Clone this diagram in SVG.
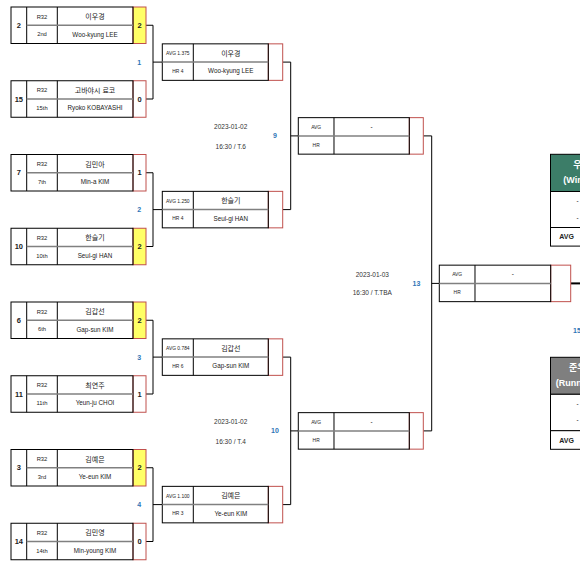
<svg xmlns="http://www.w3.org/2000/svg" width="580" height="567" viewBox="0 0 580 567">
<style>
text{font-family:"Liberation Sans","Noto Sans CJK KR",sans-serif;text-anchor:middle;fill:#222}
.bx{fill:none;stroke:#000;stroke-width:1}
.bl{stroke:#000;stroke-width:1}
.gl{stroke:#808080;stroke-width:1.5}
.sc{fill:#fff;stroke:#c0504d;stroke-width:1}
.win{fill:#ffff66}
.seed{font-size:7.5px;font-weight:bold}
.r32{font-size:5.8px}
.ko{font-size:7px}
.en{font-size:6.3px}
.score{font-size:7.5px;font-weight:bold}
.avg{font-size:4.9px}
.num{font-size:7px;font-weight:bold;fill:#2e75b6}
.date{font-size:6.5px;fill:#333}
.conn{fill:none;stroke:#000;stroke-width:1}
.hd{font-size:9px;font-weight:bold;fill:#fff}
.ws{font-size:7px;font-weight:bold}
</style>
<rect width="580" height="567" fill="#fff"/>

<g id="connectors">
<path class="conn" d="M146 25.25H153V99H146M153 62.1H162.3"/>
<path class="conn" d="M146 172.75H153V246.5H146M153 209.6H162.3"/>
<path class="conn" d="M146 320.25H153V394H146M153 357.1H162.3"/>
<path class="conn" d="M146 467.75H153V541.5H146M153 504.6H162.3"/>
<path class="conn" d="M282.7 62.1H290.7V209.6H282.7M290.7 135.9H298.3"/>
<path class="conn" d="M282.7 357.1H290.7V504.6H282.7M290.7 430.9H298.3"/>
<path class="conn" d="M423.3 135.9H431.7V430.9H423.3M431.7 283.4H439.3"/>
<path class="conn" d="M570.7 283.4H580" style="stroke-width:2"/>
</g>

<g id="r1-1" transform="translate(11,7)">
<rect class="sc win" x="122" width="13" height="36.5"/><rect class="bx" width="122" height="36.5"/>
<line class="bl" x1="15.7" x2="15.7" y2="36.5"/><line class="bl" x1="46.3" x2="46.3" y2="36.5"/><line class="gl" x1="15.7" y1="18.25" x2="122" y2="18.25"/>
<text class="seed" x="7.85" y="20.9">2</text><text class="r32" x="31" y="11.6">R32</text><text class="r32" x="31" y="29.4">2nd</text>
<text class="ko" x="84" y="12">이우경</text><text class="en" x="84" y="29.6">Woo-kyung LEE</text><text class="score" x="128.5" y="20.9">2</text>
</g>
<g id="r1-2" transform="translate(11,80.75)">
<rect class="sc" x="122" width="13" height="36.5"/><rect class="bx" width="122" height="36.5"/>
<line class="bl" x1="15.7" x2="15.7" y2="36.5"/><line class="bl" x1="46.3" x2="46.3" y2="36.5"/><line class="gl" x1="15.7" y1="18.25" x2="122" y2="18.25"/>
<text class="seed" x="7.85" y="20.9">15</text><text class="r32" x="31" y="11.6">R32</text><text class="r32" x="31" y="29.4">15th</text>
<text class="ko" x="84" y="12">고바야시 료코</text><text class="en" x="84" y="29.6">Ryoko KOBAYASHI</text><text class="score" x="128.5" y="20.9">0</text>
</g>
<g id="r1-3" transform="translate(11,154.5)">
<rect class="sc" x="122" width="13" height="36.5"/><rect class="bx" width="122" height="36.5"/>
<line class="bl" x1="15.7" x2="15.7" y2="36.5"/><line class="bl" x1="46.3" x2="46.3" y2="36.5"/><line class="gl" x1="15.7" y1="18.25" x2="122" y2="18.25"/>
<text class="seed" x="7.85" y="20.9">7</text><text class="r32" x="31" y="11.6">R32</text><text class="r32" x="31" y="29.4">7th</text>
<text class="ko" x="84" y="12">김민아</text><text class="en" x="84" y="29.6">Min-a KIM</text><text class="score" x="128.5" y="20.9">1</text>
</g>
<g id="r1-4" transform="translate(11,228.25)">
<rect class="sc win" x="122" width="13" height="36.5"/><rect class="bx" width="122" height="36.5"/>
<line class="bl" x1="15.7" x2="15.7" y2="36.5"/><line class="bl" x1="46.3" x2="46.3" y2="36.5"/><line class="gl" x1="15.7" y1="18.25" x2="122" y2="18.25"/>
<text class="seed" x="7.85" y="20.9">10</text><text class="r32" x="31" y="11.6">R32</text><text class="r32" x="31" y="29.4">10th</text>
<text class="ko" x="84" y="12">한슬기</text><text class="en" x="84" y="29.6">Seul-gi HAN</text><text class="score" x="128.5" y="20.9">2</text>
</g>
<g id="r1-5" transform="translate(11,302)">
<rect class="sc win" x="122" width="13" height="36.5"/><rect class="bx" width="122" height="36.5"/>
<line class="bl" x1="15.7" x2="15.7" y2="36.5"/><line class="bl" x1="46.3" x2="46.3" y2="36.5"/><line class="gl" x1="15.7" y1="18.25" x2="122" y2="18.25"/>
<text class="seed" x="7.85" y="20.9">6</text><text class="r32" x="31" y="11.6">R32</text><text class="r32" x="31" y="29.4">6th</text>
<text class="ko" x="84" y="12">김갑선</text><text class="en" x="84" y="29.6">Gap-sun KIM</text><text class="score" x="128.5" y="20.9">2</text>
</g>
<g id="r1-6" transform="translate(11,375.75)">
<rect class="sc" x="122" width="13" height="36.5"/><rect class="bx" width="122" height="36.5"/>
<line class="bl" x1="15.7" x2="15.7" y2="36.5"/><line class="bl" x1="46.3" x2="46.3" y2="36.5"/><line class="gl" x1="15.7" y1="18.25" x2="122" y2="18.25"/>
<text class="seed" x="7.85" y="20.9">11</text><text class="r32" x="31" y="11.6">R32</text><text class="r32" x="31" y="29.4">11th</text>
<text class="ko" x="84" y="12">최연주</text><text class="en" x="84" y="29.6">Yeun-ju CHOI</text><text class="score" x="128.5" y="20.9">1</text>
</g>
<g id="r1-7" transform="translate(11,449.5)">
<rect class="sc win" x="122" width="13" height="36.5"/><rect class="bx" width="122" height="36.5"/>
<line class="bl" x1="15.7" x2="15.7" y2="36.5"/><line class="bl" x1="46.3" x2="46.3" y2="36.5"/><line class="gl" x1="15.7" y1="18.25" x2="122" y2="18.25"/>
<text class="seed" x="7.85" y="20.9">3</text><text class="r32" x="31" y="11.6">R32</text><text class="r32" x="31" y="29.4">3rd</text>
<text class="ko" x="84" y="12">김예은</text><text class="en" x="84" y="29.6">Ye-eun KIM</text><text class="score" x="128.5" y="20.9">2</text>
</g>
<g id="r1-8" transform="translate(11,523.25)">
<rect class="sc" x="122" width="13" height="36.5"/><rect class="bx" width="122" height="36.5"/>
<line class="bl" x1="15.7" x2="15.7" y2="36.5"/><line class="bl" x1="46.3" x2="46.3" y2="36.5"/><line class="gl" x1="15.7" y1="18.25" x2="122" y2="18.25"/>
<text class="seed" x="7.85" y="20.9">14</text><text class="r32" x="31" y="11.6">R32</text><text class="r32" x="31" y="29.4">14th</text>
<text class="ko" x="84" y="12">김민영</text><text class="en" x="84" y="29.6">Min-young KIM</text><text class="score" x="128.5" y="20.9">0</text>
</g>

<g id="r2-1" transform="translate(162.3,43.85)">
<rect class="sc" x="106" width="14.4" height="36.5"/><rect class="bx" width="106" height="36.5"/>
<line class="bl" x1="31" x2="31" y2="36.5"/><line class="gl" y1="18.25" x2="106" y2="18.25"/>
<text class="avg" x="15.5" y="11.2">AVG 1.375</text><text class="avg" x="15.5" y="29">HR 4</text>
<text class="ko" x="68.5" y="12">이우경</text><text class="en" x="68.5" y="29.6">Woo-kyung LEE</text>
</g>
<g id="r2-2" transform="translate(162.3,191.35)">
<rect class="sc" x="106" width="14.4" height="36.5"/><rect class="bx" width="106" height="36.5"/>
<line class="bl" x1="31" x2="31" y2="36.5"/><line class="gl" y1="18.25" x2="106" y2="18.25"/>
<text class="avg" x="15.5" y="11.2">AVG 1.250</text><text class="avg" x="15.5" y="29">HR 4</text>
<text class="ko" x="68.5" y="12">한슬기</text><text class="en" x="68.5" y="29.6">Seul-gi HAN</text>
</g>
<g id="r2-3" transform="translate(162.3,338.85)">
<rect class="sc" x="106" width="14.4" height="36.5"/><rect class="bx" width="106" height="36.5"/>
<line class="bl" x1="31" x2="31" y2="36.5"/><line class="gl" y1="18.25" x2="106" y2="18.25"/>
<text class="avg" x="15.5" y="11.2">AVG 0.784</text><text class="avg" x="15.5" y="29">HR 6</text>
<text class="ko" x="68.5" y="12">김갑선</text><text class="en" x="68.5" y="29.6">Gap-sun KIM</text>
</g>
<g id="r2-4" transform="translate(162.3,486.35)">
<rect class="sc" x="106" width="14.4" height="36.5"/><rect class="bx" width="106" height="36.5"/>
<line class="bl" x1="31" x2="31" y2="36.5"/><line class="gl" y1="18.25" x2="106" y2="18.25"/>
<text class="avg" x="15.5" y="11.2">AVG 1.100</text><text class="avg" x="15.5" y="29">HR 3</text>
<text class="ko" x="68.5" y="12">김예은</text><text class="en" x="68.5" y="29.6">Ye-eun KIM</text>
</g>

<g id="r3-1" transform="translate(298.3,117.65)">
<rect class="sc" x="111" width="14" height="36.5"/><rect class="bx" width="111" height="36.5"/>
<line class="bl" x1="35.7" x2="35.7" y2="36.5"/><line class="gl" y1="18.25" x2="111" y2="18.25"/>
<text class="avg" x="17.85" y="11.2">AVG</text><text class="avg" x="17.85" y="29">HR</text>
<text class="en" x="73.35" y="11">-</text>
</g>
<g id="r3-2" transform="translate(298.3,412.65)">
<rect class="sc" x="111" width="14" height="36.5"/><rect class="bx" width="111" height="36.5"/>
<line class="bl" x1="35.7" x2="35.7" y2="36.5"/><line class="gl" y1="18.25" x2="111" y2="18.25"/>
<text class="avg" x="17.85" y="11.2">AVG</text><text class="avg" x="17.85" y="29">HR</text>
<text class="en" x="73.35" y="11">-</text>
</g>
<g id="r4-1" transform="translate(439.3,265.15)">
<rect class="sc" x="111.4" width="20" height="36.5"/><rect class="bx" width="111.4" height="36.5"/>
<line class="bl" x1="35.7" x2="35.7" y2="36.5"/><line class="gl" y1="18.25" x2="111.4" y2="18.25"/>
<text class="avg" x="17.85" y="11.2">AVG</text><text class="avg" x="17.85" y="29">HR</text>
<text class="en" x="73.5" y="11">-</text>
</g>

<g id="labels">
<text class="num" x="139.3" y="64.6">1</text>
<text class="num" x="139.3" y="212.1">2</text>
<text class="num" x="139.3" y="359.6">3</text>
<text class="num" x="139.3" y="507.1">4</text>
<text class="num" x="275" y="138.4">9</text>
<text class="num" x="275" y="433.4">10</text>
<text class="num" x="416.5" y="285.9">13</text>
<text class="num" x="577" y="333.4">15</text>
<text class="date" x="230.7" y="129">2023-01-02</text>
<text class="date" x="230.7" y="149">16:30 / T.6</text>
<text class="date" x="230.7" y="424.3">2023-01-02</text>
<text class="date" x="230.7" y="444.3">16:30 / T.4</text>
<text class="date" x="372.3" y="276.6">2023-01-03</text>
<text class="date" x="372.3" y="295">16:30 / T.TBA</text>
</g>

<g id="winner" transform="translate(550.5,154.3)">
<rect x="0" y="0" width="62" height="37.2" fill="#3c7d68" stroke="#000"/>
<rect x="0" y="37.2" width="62" height="36" fill="#fff" stroke="#000"/>
<rect x="0" y="73.2" width="62" height="18.6" fill="#fff" stroke="#000"/>
<text class="hd" x="31" y="13.5">우승</text>
<text class="hd" x="31" y="28.5">(Winner)</text>
<text class="en" x="27" y="49">-</text>
<text class="en" x="27" y="65.5">-</text>
<text class="ws" x="16" y="85">AVG</text>
</g>
<g id="runnerup" transform="translate(550.5,357.3)">
<rect x="0" y="0" width="62" height="37" fill="#7f7f7f" stroke="#000"/>
<rect x="0" y="37" width="62" height="36.4" fill="#fff" stroke="#000"/>
<rect x="0" y="73.4" width="62" height="18.6" fill="#fff" stroke="#000"/>
<text class="hd" x="31" y="13.5">준우승</text>
<text class="hd" x="31" y="28.5">(Runner-up)</text>
<text class="en" x="27" y="48.5">-</text>
<text class="en" x="27" y="65">-</text>
<text class="ws" x="16" y="85.5">AVG</text>
</g>
</svg>
